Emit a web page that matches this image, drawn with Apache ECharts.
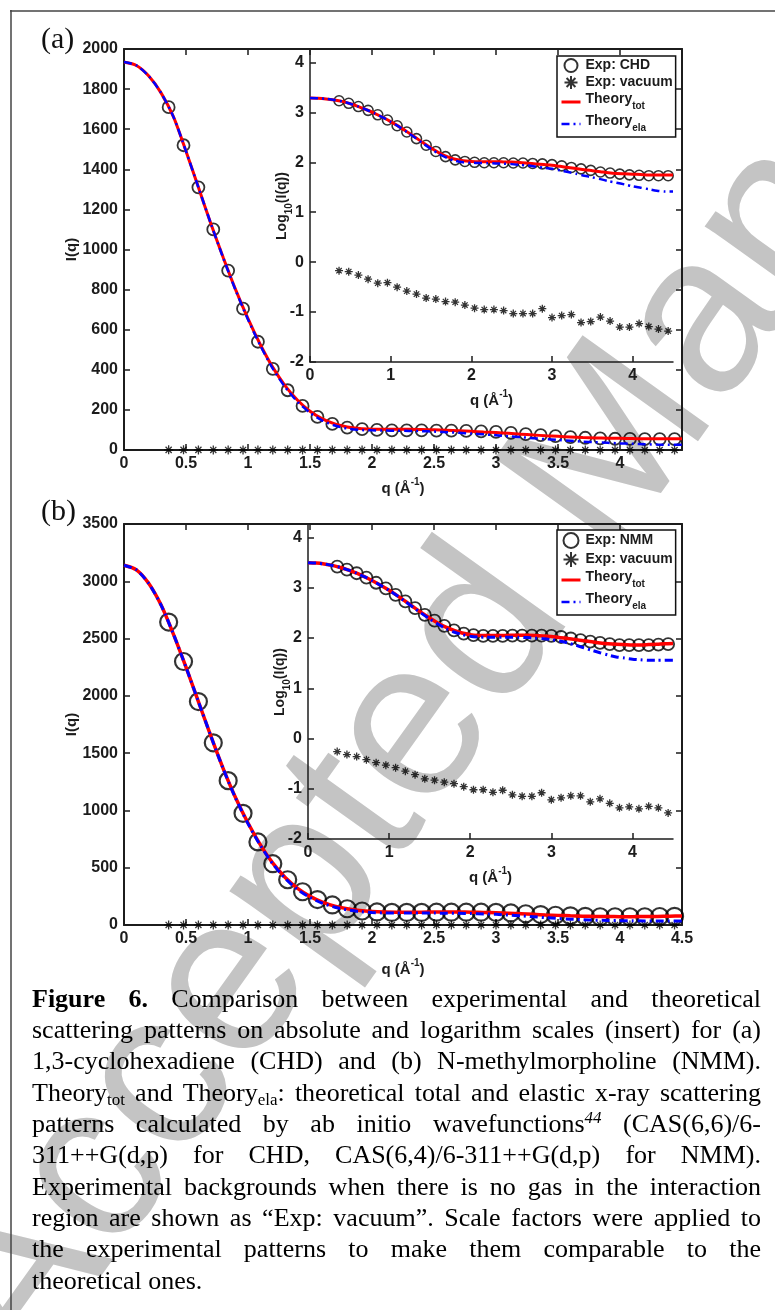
<!DOCTYPE html>
<html>
<head>
<meta charset="utf-8">
<script src="https://cdn.jsdelivr.net/npm/echarts@6/dist/echarts.min.js"></script>
<style>
html, body { margin: 0; padding: 0; background: #fff; }
#chart { width: 775px; height: 1310px; }
</style>
</head>
<body>
<div id="chart"></div>
<script>
// q grid of the measured points (same for CHD and NMM)
var qExp = [0.36, 0.48, 0.60, 0.72, 0.84, 0.96, 1.08, 1.20, 1.32, 1.44, 1.56, 1.68, 1.80, 1.92, 2.04, 2.16, 2.28, 2.40,
  2.52, 2.64, 2.76, 2.88, 3.00, 3.12, 3.24, 3.36, 3.48, 3.60, 3.72, 3.84, 3.96, 4.08, 4.20, 4.32, 4.44];
// q grid of the theory curves
var qTheory = [0, 0.1, 0.2, 0.3, 0.4, 0.5, 0.6, 0.7, 0.8, 0.9, 1.0, 1.1, 1.2, 1.3, 1.4, 1.5, 1.6, 1.7, 1.8, 1.9, 2.0,
  2.1, 2.2, 2.3, 2.4, 2.5, 2.6, 2.7, 2.8, 2.9, 3.0, 3.1, 3.2, 3.3, 3.4, 3.5, 3.6, 3.7, 3.8, 3.9, 4.0, 4.1, 4.2, 4.3, 4.4, 4.5];

// (a) CHD, I(q)
var chdExp = [1710, 1520, 1310, 1100, 895, 705, 540, 405, 298, 220, 165, 130, 112, 104, 100, 98, 98, 98, 97, 97,
  95, 93, 90, 85, 79, 74, 69, 64, 61, 58, 56, 55, 54, 54, 54];
var chdVacuum = [0.676, 0.646, 0.550, 0.457, 0.380, 0.389, 0.316, 0.263, 0.229, 0.191, 0.182, 0.162, 0.158, 0.138,
  0.120, 0.112, 0.112, 0.107, 0.0933, 0.0933, 0.0933, 0.117, 0.0776, 0.0851, 0.0891, 0.0617, 0.0646, 0.0794, 0.0661,
  0.0501, 0.0501, 0.0589, 0.0513, 0.0457, 0.0417];
var chdTot = [1935, 1918, 1865, 1780, 1660, 1490, 1310, 1130, 960, 800, 655, 525, 412, 320, 248, 193, 155, 130, 115, 107,
  104, 103, 103, 103, 102, 101, 99, 96, 93, 90, 87, 83, 79, 75, 71, 68, 65, 62, 60, 59, 58, 57, 56, 56, 56, 56];
var chdEla = [1935, 1918, 1865, 1780, 1660, 1490, 1310, 1130, 958, 797, 651, 520, 406, 313, 240, 186, 147, 122, 107, 100,
  98, 97, 96, 95, 94, 92, 89, 86, 82, 78, 74, 69, 64, 59, 54, 50, 46, 42, 39, 36, 33, 31, 29, 27, 26, 26];

// (b) NMM, I(q)
var nmmExp = [2644, 2300, 1950, 1590, 1260, 975, 725, 535, 395, 290, 222, 175, 142, 122, 114, 110, 110, 110, 112, 112,
  112, 112, 110, 105, 98, 91, 85, 80, 76, 72, 72, 72, 72, 74, 76];
var nmmVacuum = [0.550, 0.479, 0.437, 0.380, 0.331, 0.295, 0.263, 0.224, 0.191, 0.158, 0.148, 0.135, 0.126, 0.110,
  0.0955, 0.0955, 0.0851, 0.0933, 0.0759, 0.0708, 0.0708, 0.0832, 0.0603, 0.0661, 0.0724, 0.0724, 0.0550, 0.0631,
  0.0513, 0.0417, 0.0437, 0.0398, 0.0447, 0.0417, 0.0331];
var nmmTot = [3140, 3100, 2980, 2790, 2535, 2250, 1950, 1650, 1365, 1110, 890, 700, 540, 415, 320, 250, 200, 165, 142, 126,
  117, 113, 112, 112, 112, 113, 113, 113, 112, 110, 107, 103, 98, 93, 88, 84, 80, 77, 75, 74, 73, 73, 74, 75, 77, 78];
var nmmEla = [3140, 3100, 2980, 2790, 2535, 2250, 1950, 1650, 1363, 1106, 885, 694, 533, 406, 310, 240, 190, 155, 132, 117,
  109, 105, 104, 104, 104, 104, 103, 102, 100, 97, 93, 87, 80, 72, 64, 57, 51, 46, 42, 40, 38, 37, 36, 36, 36, 36];

// axis ranges: [min, max, interval]
var qMainAxis = [0, 4.5, 0.5];
var qInsetAxis = [0, 4.5, 1];
var chdAxisY = [0, 2000, 200];
var nmmAxisY = [0, 3500, 500];
var logAxisY = [-2, 4.25, 1];

var captionLines = [
  '{b|Figure} {b|6.} Comparison between experimental and theoretical',
  'scattering patterns on absolute and logarithm scales (insert) for (a)',
  '1,3-cyclohexadiene (CHD) and (b) N-methylmorpholine (NMM).',
  'Theory{sub|tot} and Theory{sub|ela}: theoretical total and elastic x-ray scattering',
  'patterns calculated by ab initio wavefunctions{sup|44} (CAS(6,6)/6-',
  '311++G(d,p) for CHD, CAS(6,4)/6-311++G(d,p) for NMM).',
  'Experimental backgrounds when there is no gas in the interaction',
  'region are shown as \u201cExp: vacuum\u201d. Scale factors were applied to',
  'the experimental patterns to make them comparable to the',
  'theoretical ones.'
];

var INK = '#1c1c1c';
var SANS = '"Liberation Sans", Arial, sans-serif';
var SERIF = '"Liberation Serif", "Times New Roman", serif';
var STAR = 'path://M5,0L5,10M0,5L10,5M1.6,1.6L8.4,8.4M1.6,8.4L8.4,1.6';

function pairs(xs, ys, f) {
  return xs.map(function (x, i) { return [x, f ? f(ys[i]) : ys[i]]; });
}
function log10(v) { return Math.log10(v); }
function plain(v) { return String(v); }

var qName = '{a|q (\u00c5}{s|-1}{a|)}';
var qRich = {
  a: { fontSize: 15, fontWeight: 'bold', fontFamily: SANS, color: INK, lineHeight: 18, padding: [4, 0, 0, 0] },
  s: { fontSize: 10, fontWeight: 'bold', fontFamily: SANS, color: INK, lineHeight: 12, padding: [0, 0, 10, 0] }
};
var logName = '{a|Log}{s|10}{a|(I(q))}';
var logRich = {
  a: { fontSize: 14, fontWeight: 'bold', fontFamily: SANS, color: INK, lineHeight: 17, padding: [0, 0, 5, 0] },
  s: { fontSize: 10, fontWeight: 'bold', fontFamily: SANS, color: INK, lineHeight: 12, padding: [10, 0, 0, 0] }
};
var tickFont = { fontSize: 16, fontWeight: 'bold', fontFamily: SANS, color: INK };

function xAxisOf(grid, ax, pos, opts) {
  return {
    type: 'value', gridIndex: grid, position: pos, min: ax[0], max: ax[1], interval: ax[2],
    axisLine: { show: true, onZero: false, lineStyle: { color: INK, width: opts.lw } },
    axisTick: { show: true, inside: true, length: 6, lineStyle: { color: INK, width: 1.5 } },
    axisLabel: Object.assign({ show: pos === 'bottom', margin: 6, interval: 0, showMaxLabel: opts.showMax, formatter: plain }, tickFont),
    splitLine: { show: false },
    name: pos === 'bottom' ? qName : '', nameLocation: 'middle', nameGap: opts.gap,
    nameTextStyle: { rich: qRich }
  };
}
function yAxisOf(grid, ax, pos, opts) {
  return {
    type: 'value', gridIndex: grid, position: pos, min: ax[0], max: ax[1], interval: ax[2],
    axisLine: { show: true, onZero: false, lineStyle: { color: INK, width: opts.lw } },
    axisTick: { show: true, inside: true, length: 6, lineStyle: { color: INK, width: 1.5 } },
    axisLabel: Object.assign({ show: pos === 'left', margin: 6, interval: 0, showMaxLabel: opts.showMax, formatter: plain }, tickFont),
    splitLine: { show: false },
    name: pos === 'left' ? opts.name : '', nameLocation: 'middle', nameGap: opts.gap, nameRotate: 90,
    nameMoveOverlap: false,
    nameTextStyle: opts.rich ? { rich: opts.rich } : { fontSize: 15, fontWeight: 'bold', fontFamily: SANS, color: INK }
  };
}

function expSeries(name, xi, data, size, bw) {
  return {
    name: name, type: 'scatter', xAxisIndex: xi, yAxisIndex: xi, data: data, symbol: 'circle', symbolSize: size,
    itemStyle: { color: 'rgba(0,0,0,0)', borderColor: '#000', borderWidth: bw }, z: 2, silent: true
  };
}
function vacSeries(xi, data, size) {
  return {
    name: 'Exp: vacuum', type: 'scatter', xAxisIndex: xi, yAxisIndex: xi, data: data, symbol: STAR, symbolSize: size,
    itemStyle: { color: 'rgba(0,0,0,0)', borderColor: '#000', borderWidth: 1.3 }, z: 3, silent: true
  };
}
function lineSeries(name, xi, data, color, width, dash, z) {
  return {
    name: name, type: 'line', xAxisIndex: xi, yAxisIndex: xi, data: data, symbol: 'none', smooth: 0.25,
    lineStyle: { color: color, width: width, type: dash }, itemStyle: { color: color }, z: z, silent: true
  };
}

function legendText(name) {
  if (name === 'Theory_tot') return '{m|Theory}{s|tot}';
  if (name === 'Theory_ela') return '{m|Theory}{s|ela}';
  return '{p|' + name + '}';
}
function legendOf(first, top, iconH) {
  return {
    data: [
      first, 'Exp: vacuum',
      { name: 'Theory_tot', itemStyle: { opacity: 0 }, lineStyle: { width: 3 } },
      { name: 'Theory_ela', itemStyle: { opacity: 0 }, lineStyle: { width: 2.5 } }
    ],
    orient: 'vertical', left: 557, top: top, padding: [2, 3, 3, 3], itemGap: 2,
    itemWidth: 19, itemHeight: iconH, selectedMode: false,
    borderColor: '#111', borderWidth: 1.5, backgroundColor: '#fff',
    formatter: legendText,
    textStyle: {
      color: INK,
      rich: {
        p: { fontSize: 14, fontWeight: 'bold', fontFamily: SANS, color: INK, lineHeight: 18 },
        m: { fontSize: 14, fontWeight: 'bold', fontFamily: SANS, color: INK, lineHeight: 17, padding: [0, 0, 5, 0] },
        s: { fontSize: 10, fontWeight: 'bold', fontFamily: SANS, color: INK, lineHeight: 12, padding: [9, 0, 1, 0] }
      }
    }
  };
}

// caption, justified word by word
var capRich = {
  n: { fontSize: 26, fontFamily: SERIF, color: '#000', lineHeight: 30 },
  b: { fontSize: 26, fontFamily: SERIF, fontWeight: 'bold', color: '#000', lineHeight: 30 },
  sub: { fontSize: 17, fontFamily: SERIF, color: '#000', lineHeight: 17, padding: [13, 0, 0, 0] },
  sup: { fontSize: 17, fontFamily: SERIF, fontStyle: 'italic', color: '#5b6e96', lineHeight: 17, padding: [0, 0, 13, 0] }
};
var capFonts = {
  n: '26px ' + SERIF, b: 'bold 26px ' + SERIF, sub: '17px ' + SERIF, sup: 'italic 17px ' + SERIF
};
var measure = document.createElement('canvas').getContext('2d');
function parseWord(w) {
  var segs = [], re = /\{(\w+)\|([^}]*)\}/g, last = 0, m;
  while ((m = re.exec(w))) {
    if (m.index > last) segs.push(['n', w.slice(last, m.index)]);
    segs.push([m[1], m[2]]);
    last = re.lastIndex;
  }
  if (last < w.length) segs.push(['n', w.slice(last)]);
  return segs;
}
function captionElements() {
  var els = [], left = 32, right = 761, top = 1000, step = 31.3;
  measure.font = capFonts.n;
  var space = measure.measureText(' ').width;
  captionLines.forEach(function (line, li) {
    var words = line.split(' ').map(parseWord);
    var widths = words.map(function (segs) {
      return segs.reduce(function (s, g) { measure.font = capFonts[g[0]]; return s + measure.measureText(g[1]).width; }, 0);
    });
    var total = widths.reduce(function (a, b) { return a + b; }, 0);
    var gap = li < captionLines.length - 1 ? (right - left - total) / (words.length - 1) : space;
    var x = left;
    words.forEach(function (segs, i) {
      els.push({
        type: 'text', x: x, y: top + li * step, z: 10, silent: true,
        style: {
          text: segs.map(function (g) { return '{' + g[0] + '|' + g[1] + '}'; }).join(''),
          rich: capRich, align: 'left', verticalAlign: 'middle'
        }
      });
      x += widths[i] + gap;
    });
  });
  return els;
}

var chart = echarts.init(document.getElementById('chart'));

var option = {
  animation: false,
  backgroundColor: '#fff',
  textStyle: { fontFamily: SANS },
  grid: [
    { left: 124, top: 49, width: 558, height: 401 },
    { left: 310, top: 50, width: 363, height: 312 },
    { left: 124, top: 524, width: 558, height: 401 },
    { left: 308, top: 525, width: 365, height: 314 }
  ],
  xAxis: [
    xAxisOf(0, qMainAxis, 'bottom', { lw: 2, gap: 28, showMax: false }),
    xAxisOf(0, qMainAxis, 'top', { lw: 2, gap: 0, showMax: false }),
    xAxisOf(1, qInsetAxis, 'bottom', { lw: 1.5, gap: 28, showMax: false }),
    xAxisOf(2, qMainAxis, 'bottom', { lw: 2, gap: 34, showMax: true }),
    xAxisOf(2, qMainAxis, 'top', { lw: 2, gap: 0, showMax: true }),
    xAxisOf(3, qInsetAxis, 'bottom', { lw: 1.5, gap: 28, showMax: false })
  ],
  yAxis: [
    yAxisOf(0, chdAxisY, 'left', { lw: 2, gap: 45, name: 'I(q)', showMax: true }),
    yAxisOf(0, chdAxisY, 'right', { lw: 2, showMax: true }),
    yAxisOf(1, logAxisY, 'left', { lw: 1.5, gap: 17, name: logName, rich: logRich, showMax: false }),
    yAxisOf(2, nmmAxisY, 'left', { lw: 2, gap: 45, name: 'I(q)', showMax: true }),
    yAxisOf(2, nmmAxisY, 'right', { lw: 2, showMax: true }),
    yAxisOf(3, logAxisY, 'left', { lw: 1.5, gap: 17, name: logName, rich: logRich, showMax: false })
  ],
  legend: [legendOf('Exp: CHD', 56, 13), legendOf('Exp: NMM', 530, 15)],
  series: [
    // (a) absolute
    expSeries('Exp: CHD', 0, pairs(qExp, chdExp), 12, 1.8),
    vacSeries(0, pairs(qExp, chdVacuum), 9),
    lineSeries('Theory_tot', 0, pairs(qTheory, chdTot), '#ff0000', 3, 'solid', 4),
    lineSeries('Theory_ela', 0, pairs(qTheory, chdEla), '#0000ff', 2.5, [8, 4, 2, 4], 5),
    // (a) log inset
    expSeries('Exp: CHD', 2, pairs(qExp, chdExp, log10), 10, 1.6),
    vacSeries(2, pairs(qExp, chdVacuum, log10), 8),
    lineSeries('Theory_tot', 2, pairs(qTheory, chdTot, log10), '#ff0000', 3, 'solid', 4),
    lineSeries('Theory_ela', 2, pairs(qTheory, chdEla, log10), '#0000ff', 2.5, [8, 4, 2, 4], 5),
    // (b) absolute
    expSeries('Exp: NMM', 3, pairs(qExp, nmmExp), 17, 2.2),
    vacSeries(3, pairs(qExp, nmmVacuum), 9),
    lineSeries('Theory_tot', 3, pairs(qTheory, nmmTot), '#ff0000', 3.5, 'solid', 4),
    lineSeries('Theory_ela', 3, pairs(qTheory, nmmEla), '#0000ff', 3, [8, 4, 2, 4], 5),
    // (b) log inset
    expSeries('Exp: NMM', 5, pairs(qExp, nmmExp, log10), 12, 1.8),
    vacSeries(5, pairs(qExp, nmmVacuum, log10), 8),
    lineSeries('Theory_tot', 5, pairs(qTheory, nmmTot, log10), '#ff0000', 3.5, 'solid', 4),
    lineSeries('Theory_ela', 5, pairs(qTheory, nmmEla, log10), '#0000ff', 3, [8, 4, 2, 4], 5)
  ],
  graphic: {
    elements: [
      {
        type: 'text', x: -25, y: 1345, rotation: 0.95, z: -10, silent: true,
        style: { text: 'Accepted Manuscript', fontSize: 226, fontFamily: SANS, fill: '#c4c4c4', align: 'left', verticalAlign: 'middle' }
      },
      { type: 'line', silent: true, shape: { x1: 10, y1: 11, x2: 775, y2: 11 }, style: { stroke: '#444', lineWidth: 1.5 } },
      { type: 'line', silent: true, shape: { x1: 11, y1: 10, x2: 11, y2: 1310 }, style: { stroke: '#444', lineWidth: 1.5 } },
      { type: 'text', x: 41, y: 40, silent: true, style: { text: '(a)', fontSize: 30, fontFamily: SERIF, fill: '#111', verticalAlign: 'middle' } },
      { type: 'text', x: 41, y: 512, silent: true, style: { text: '(b)', fontSize: 30, fontFamily: SERIF, fill: '#111', verticalAlign: 'middle' } }
    ].concat(captionElements())
  }
};

chart.setOption(option);
</script>
</body>
</html>
